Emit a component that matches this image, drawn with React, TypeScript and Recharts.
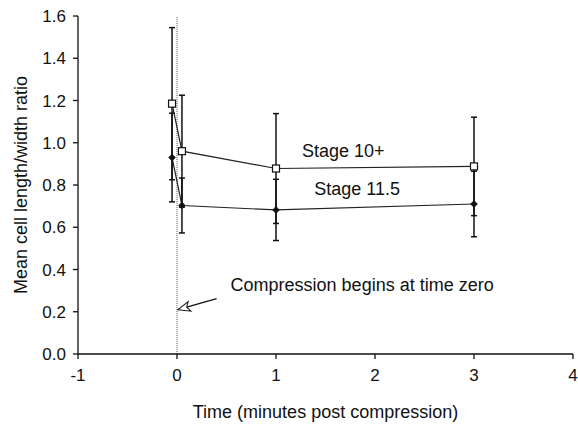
import React from 'react';
import {
  LineChart,
  Line,
  XAxis,
  YAxis,
  ErrorBar,
  ReferenceLine,
  ReferenceDot,
} from 'recharts';

const FONT = '"Liberation Sans", Arial, Helvetica, sans-serif';

// time points (minutes post compression), shared by both stages
const times = [-0.05, 0.05, 1, 3];

const stage10Mean = [1.185, 0.96, 0.878, 0.888];
const stage10Err = [0.36, 0.265, 0.26, 0.233];

const stage115Mean = [0.93, 0.703, 0.682, 0.71];
const stage115Err = [0.21, 0.13, 0.145, 0.155];

const xTicks = [-1, 0, 1, 2, 3, 4];
const yTicks = [0, 0.2, 0.4, 0.6, 0.8, 1.0, 1.2, 1.4, 1.6];

// text annotations, placed in data coordinates
const stage10Label = { x: 1.68, y: 0.965, text: 'Stage 10+' };
const stage115Label = { x: 1.82, y: 0.785, text: 'Stage 11.5' };
const noteLabel = { x: 1.87, y: 0.328, text: 'Compression begins at time zero' };
const arrowFrom = { x: 0.4, y: 0.262 };
const arrowTo = { x: 0.01, y: 0.21 };

const data = times.map((t, i) => ({
  t,
  s10: stage10Mean[i],
  s10err: stage10Err[i],
  s115: stage115Mean[i],
  s115err: stage115Err[i],
}));

const SquareDot = (props: any) => {
  const { cx, cy, index } = props;
  if (cx == null || cy == null) return null;
  return (
    <rect
      key={`sq-${index}`}
      x={cx - 3.5}
      y={cy - 3.5}
      width={7}
      height={7}
      fill="#fff"
      stroke="#111"
      strokeWidth={1.2}
    />
  );
};

const DiamondDot = (props: any) => {
  const { cx, cy, index } = props;
  if (cx == null || cy == null) return null;
  const r = 3.5;
  return (
    <polygon
      key={`dm-${index}`}
      points={`${cx},${cy - r} ${cx + r},${cy} ${cx},${cy + r} ${cx - r},${cy}`}
      fill="#111"
      stroke="#111"
      strokeWidth={0.5}
    />
  );
};

const textLabel = (value: string) => ({
  value,
  position: 'center' as const,
  fill: '#111',
  fontSize: 18,
  fontFamily: FONT,
});

export default function App() {
  return (
    <div style={{ position: 'absolute', left: 0, top: 0, background: '#fff' }}>
      <LineChart
        width={578}
        height={428}
        data={data}
        margin={{ top: 16, right: 5, left: 18, bottom: 8 }}
        style={{ fontFamily: FONT }}
      >
        <defs>
          <marker
            id="openArrow"
            markerUnits="userSpaceOnUse"
            markerWidth={16}
            markerHeight={14}
            refX={14}
            refY={7}
            orient="auto"
          >
            <path d="M14,7 L2,2 L5,7 L2,12 Z" fill="#fff" stroke="#111" strokeWidth={1} />
          </marker>
        </defs>
        <XAxis
          dataKey="t"
          type="number"
          domain={[-1, 4]}
          ticks={xTicks}
          allowDataOverflow
          height={66}
          tickSize={5}
          tickMargin={10}
          axisLine={{ stroke: '#111', strokeWidth: 1.3 }}
          tickLine={{ stroke: '#111', strokeWidth: 1.3 }}
          tick={{ fill: '#111', fontSize: 17, fontFamily: FONT }}
          label={{
            value: 'Time (minutes post compression)',
            position: 'insideBottom',
            offset: 2,
            fill: '#111',
            fontSize: 18,
            fontFamily: FONT,
          }}
        />
        <YAxis
          type="number"
          domain={[0, 1.6]}
          ticks={yTicks}
          allowDataOverflow
          width={60}
          tickSize={5}
          tickMargin={7}
          tickFormatter={(v: number) => v.toFixed(1)}
          axisLine={{ stroke: '#111', strokeWidth: 1.3 }}
          tickLine={{ stroke: '#111', strokeWidth: 1.3 }}
          tick={{ fill: '#111', fontSize: 17, fontFamily: FONT }}
          label={{
            value: 'Mean cell length/width ratio',
            angle: -90,
            position: 'insideLeft',
            offset: 3,
            fill: '#111',
            fontSize: 18,
            fontFamily: FONT,
            style: { textAnchor: 'middle' },
          }}
        />
        <ReferenceLine x={0} stroke="#555" strokeDasharray="1 1" strokeWidth={1} />
        <ReferenceLine
          segment={[arrowFrom, arrowTo]}
          stroke="#111"
          strokeWidth={1.2}
          markerEnd="url(#openArrow)"
        />
        <Line
          dataKey="s115"
          stroke="#222"
          strokeWidth={1.2}
          dot={DiamondDot}
          activeDot={false}
          isAnimationActive={false}
        >
          <ErrorBar dataKey="s115err" direction="y" width={3} stroke="#111" strokeWidth={1.5} />
        </Line>
        <Line
          dataKey="s10"
          stroke="#222"
          strokeWidth={1.2}
          dot={SquareDot}
          activeDot={false}
          isAnimationActive={false}
        >
          <ErrorBar dataKey="s10err" direction="y" width={3} stroke="#111" strokeWidth={1.5} />
        </Line>
        <ReferenceDot x={stage10Label.x} y={stage10Label.y} r={0} fill="none" stroke="none" label={textLabel(stage10Label.text)} />
        <ReferenceDot x={stage115Label.x} y={stage115Label.y} r={0} fill="none" stroke="none" label={textLabel(stage115Label.text)} />
        <ReferenceDot x={noteLabel.x} y={noteLabel.y} r={0} fill="none" stroke="none" label={textLabel(noteLabel.text)} />
      </LineChart>
    </div>
  );
}
